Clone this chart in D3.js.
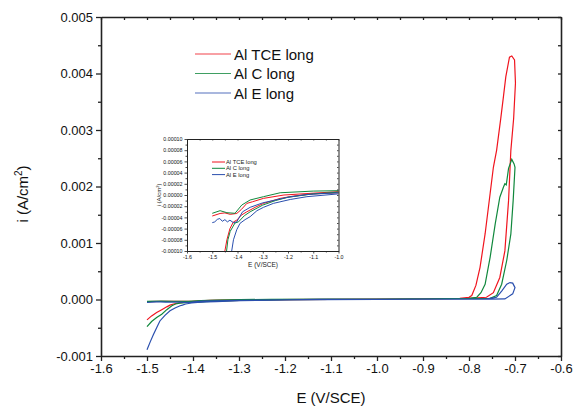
<!DOCTYPE html>
<html>
<head>
<meta charset="utf-8">
<script src="https://cdn.jsdelivr.net/npm/d3@7/dist/d3.min.js"></script>
<style>
  body { margin: 0; background: #fff; }
  svg { display: block; font-family: "Liberation Sans", Arial, sans-serif; }
  .axis path, .axis line { stroke: #222; }
</style>
</head>
<body>
<div id="chart"></div>
<script>
// scan order: forward from -1.5 V up to -0.7 V, then back to -1.5 V  [E (V/SCE), i (A/cm2)]
const tceLong = [
  [-1.500, -0.00036], [-1.490, -0.00029], [-1.479, -0.00023], [-1.468, -0.00018],
  [-1.457, -0.00013], [-1.450, -0.000100], [-1.442, -0.000080], [-1.430, -0.000060],
  [-1.416, -0.000048], [-1.403, -0.000045], [-1.385, -0.000036], [-1.363, -0.000030],
  [-1.330, -0.000022], [-1.297, -0.000015], [-1.260, -0.000010], [-1.231, -0.000006],
  [-1.180, -0.000002], [-1.100, 0.000002], [-1.000, 0.000004], [-0.900, 0.000010],
  [-0.820, 0.000020], [-0.800, 0.000040], [-0.794, 0.00007], [-0.785, 0.00025],
  [-0.776, 0.00057], [-0.765, 0.00116], [-0.754, 0.00188], [-0.747, 0.00234],
  [-0.740, 0.00264], [-0.731, 0.00320], [-0.725, 0.00360], [-0.720, 0.00394],
  [-0.712, 0.00429], [-0.707, 0.00431], [-0.701, 0.00424], [-0.699, 0.00383],
  [-0.703, 0.00320], [-0.709, 0.00264], [-0.714, 0.00175], [-0.722, 0.00086],
  [-0.733, 0.00039], [-0.747, 0.00012], [-0.762, 0.00004], [-0.800, 0.00002],
  [-0.900, 0.000012], [-1.000, 0.000006], [-1.109, 0.000003], [-1.216, 0.000000],
  [-1.297, -0.000006], [-1.340, -0.000012], [-1.363, -0.000015], [-1.385, -0.000026],
  [-1.403, -0.000033], [-1.429, -0.0000345], [-1.450, -0.000032], [-1.469, -0.000033],
  [-1.500, -0.0000375]
];

const cLong = [
  [-1.500, -0.00048], [-1.490, -0.00039], [-1.479, -0.00032], [-1.468, -0.00026],
  [-1.457, -0.00018], [-1.446, -0.00011], [-1.438, -0.000080], [-1.429, -0.000065],
  [-1.410, -0.000050], [-1.396, -0.000048], [-1.373, -0.000037], [-1.350, -0.000030],
  [-1.300, -0.000018], [-1.250, -0.000010], [-1.200, -0.000004], [-1.100, 0.000002],
  [-1.000, 0.000005], [-0.900, 0.000010], [-0.800, 0.000020], [-0.783, 0.00004],
  [-0.774, 0.00012], [-0.765, 0.00027], [-0.754, 0.00075], [-0.743, 0.00134],
  [-0.733, 0.00181], [-0.725, 0.00199], [-0.722, 0.00205], [-0.719, 0.00203],
  [-0.714, 0.00232], [-0.707, 0.00248], [-0.702, 0.00240], [-0.700, 0.00234],
  [-0.704, 0.00175], [-0.709, 0.00116], [-0.718, 0.00069], [-0.729, 0.00027],
  [-0.740, 0.00007], [-0.754, 0.00002], [-0.850, 0.000015], [-1.000, 0.0000077],
  [-1.100, 0.000007], [-1.231, 0.000004], [-1.297, -0.000003], [-1.350, -0.0000089],
  [-1.383, -0.0000179], [-1.410, -0.0000327], [-1.442, -0.0000316], [-1.469, -0.000028],
  [-1.500, -0.0000327]
];

const eLong = [
  [-1.500, -0.00089], [-1.493, -0.00075], [-1.486, -0.00062], [-1.479, -0.00050],
  [-1.472, -0.00038], [-1.461, -0.00028], [-1.450, -0.00020], [-1.439, -0.00015],
  [-1.428, -0.00011], [-1.423, -0.00010], [-1.416, -0.000080], [-1.403, -0.000062],
  [-1.390, -0.0000506], [-1.370, -0.000044], [-1.350, -0.0000387], [-1.323, -0.000028],
  [-1.297, -0.000022], [-1.258, -0.000015], [-1.191, -0.000008], [-1.125, -0.000003],
  [-1.000, 0.000002], [-0.900, 0.000004], [-0.800, 0.000005], [-0.762, 0.00001],
  [-0.740, 0.00004], [-0.729, 0.00015], [-0.718, 0.00027], [-0.711, 0.00030],
  [-0.705, 0.00029], [-0.700, 0.00021], [-0.705, 0.00010], [-0.722, 0.00001],
  [-0.754, 0.000005], [-0.900, 0.000005], [-1.000, 0.000004], [-1.125, 0.000001],
  [-1.200, -0.000004], [-1.300, -0.000014], [-1.350, -0.000022], [-1.380, -0.000030],
  [-1.403, -0.000048], [-1.416, -0.0000494], [-1.430, -0.000045], [-1.440, -0.000048],
  [-1.450, -0.000044], [-1.460, -0.000047], [-1.470, -0.000042], [-1.480, -0.0000435],
  [-1.490, -0.000048], [-1.500, -0.0000494]
];

const seriesNames = ["Al TCE long", "Al C long", "Al E long"];
const seriesColors = ["#f0141e", "#10883c", "#2a4fae"];
const seriesData = [tceLong, cLong, eLong];

const xTicks = [-1.6, -1.5, -1.4, -1.3, -1.2, -1.1, -1.0, -0.9, -0.8, -0.7, -0.6];
const yTicks = [-0.001, 0.000, 0.001, 0.002, 0.003, 0.004, 0.005];
const insetXTicks = [-1.6, -1.5, -1.4, -1.3, -1.2, -1.1, -1.0];
const insetYTicks = [-0.0001, -0.00008, -0.00006, -0.00004, -0.00002, 0, 0.00002, 0.00004, 0.00006, 0.00008, 0.0001];

const width = 582, height = 409;
const svg = d3.select("#chart").append("svg").attr("width", width).attr("height", height);

const mids = (t) => d3.pairs(t).map(([a, b]) => (a + b) / 2);

// ---- main plot
const x = d3.scaleLinear().domain([-1.6, -0.6]).range([101, 561]);
const y = d3.scaleLinear().domain([-0.001, 0.005]).range([356, 17]);

const fmtX = (d) => d.toFixed(1);
const fmtY = (d) => d.toFixed(3);

function drawAxes(g, xs, ys, xt, yt, fx, fy, o) {
  const [x0, x1] = xs.range(), [y0, y1] = ys.range();
  // minor ticks
  g.append("g").attr("class", "axis").attr("transform", `translate(0,${y0})`)
    .call(d3.axisBottom(xs).tickValues(mids(xt)).tickSize(o.minor).tickSizeOuter(0).tickFormat(""))
    .call((s) => s.select(".domain").remove());
  g.append("g").attr("class", "axis").attr("transform", `translate(${x0},0)`)
    .call(d3.axisLeft(ys).tickValues(mids(yt)).tickSize(o.minor).tickSizeOuter(0).tickFormat(""))
    .call((s) => s.select(".domain").remove());
  // top and right: inward ticks
  g.append("g").attr("class", "axis").attr("transform", `translate(0,${y1})`)
    .call(d3.axisTop(xs).tickValues(xt.concat(mids(xt))).tickSize(-o.inner).tickSizeOuter(0).tickFormat(""))
    .call((s) => s.select(".domain").attr("stroke-width", o.sw));
  g.append("g").attr("class", "axis").attr("transform", `translate(${x1},0)`)
    .call(d3.axisRight(ys).tickValues(yt.concat(mids(yt))).tickSize(-o.inner).tickSizeOuter(0).tickFormat(""))
    .call((s) => s.select(".domain").attr("stroke-width", o.sw));
  // major ticks with labels
  const bx = g.append("g").attr("class", "axis").attr("transform", `translate(0,${y0})`)
    .call(d3.axisBottom(xs).tickValues(xt).tickSize(o.major).tickSizeOuter(0).tickPadding(o.pad).tickFormat(fx));
  bx.select(".domain").attr("stroke-width", o.sw);
  const ly = g.append("g").attr("class", "axis").attr("transform", `translate(${x0},0)`)
    .call(d3.axisLeft(ys).tickValues(yt).tickSize(o.major).tickSizeOuter(0).tickPadding(o.pad).tickFormat(fy));
  ly.select(".domain").attr("stroke-width", o.sw);
  g.selectAll(".axis text").attr("font-family", null).attr("font-size", o.font).attr("fill", "#111");
  g.selectAll(".axis line").attr("stroke-width", o.tw);
}

const main = svg.append("g");
const line = d3.line().x((d) => x(d[0])).y((d) => y(d[1]));
main.selectAll("path.curve").data(seriesData).join("path")
  .attr("class", "curve").attr("d", line).attr("fill", "none")
  .attr("stroke", (d, i) => seriesColors[i]).attr("stroke-width", 1.2);

drawAxes(main, x, y, xTicks, yTicks, fmtX, fmtY,
  { major: 5, minor: 3, inner: 3, pad: 3, font: 13, sw: 1.6, tw: 1.3 });

main.append("text").attr("x", 331).attr("y", 403).attr("text-anchor", "middle")
  .attr("font-size", 15).attr("fill", "#111").text("E (V/SCE)");
const yt = main.append("text").attr("transform", "translate(28,194) rotate(-90)")
  .attr("text-anchor", "middle").attr("font-size", 15).attr("fill", "#111");
yt.append("tspan").text("i (A/cm");
yt.append("tspan").attr("font-size", 10).attr("dy", -6).text("2");
yt.append("tspan").attr("dy", 6).text(")");

const leg = main.append("g");
seriesNames.forEach((n, i) => {
  const yy = 54 + i * 19.5;
  leg.append("line").attr("x1", 195).attr("x2", 231).attr("y1", yy).attr("y2", yy)
    .attr("stroke", seriesColors[i]).attr("stroke-width", 1.2).attr("opacity", 0.8);
  leg.append("text").attr("x", 234).attr("y", yy + 5.5).attr("font-size", 15)
    .attr("fill", "#111").text(n);
});

// ---- inset
const ix = d3.scaleLinear().domain([-1.6, -1.0]).range([187, 338.5]);
const iy = d3.scaleLinear().domain([-0.0001, 0.0001]).range([251, 139]);
const inset = svg.append("g");
inset.append("rect").attr("x", 187).attr("y", 139).attr("width", 151.5).attr("height", 112).attr("fill", "#fff");
svg.append("clipPath").attr("id", "inclip").append("rect")
  .attr("x", 187).attr("y", 139).attr("width", 151.5).attr("height", 112);
const iline = d3.line().x((d) => ix(d[0])).y((d) => iy(d[1]));
inset.append("g").attr("clip-path", "url(#inclip)")
  .selectAll("path").data(seriesData).join("path")
  .attr("d", iline).attr("fill", "none")
  .attr("stroke", (d, i) => seriesColors[i]).attr("stroke-width", 1);

drawAxes(inset, ix, iy, insetXTicks, insetYTicks, fmtX, (d) => d.toFixed(5),
  { major: 2.5, minor: 1.5, inner: 1.5, pad: 2, font: 5.3, sw: 1, tw: 0.8 });

inset.append("text").attr("x", 263).attr("y", 267).attr("text-anchor", "middle")
  .attr("font-size", 6.5).attr("fill", "#222").text("E (V/SCE)");
const iyt = inset.append("text").attr("transform", "translate(161,195) rotate(-90)")
  .attr("text-anchor", "middle").attr("font-size", 6).attr("fill", "#222");
iyt.append("tspan").text("i (A/cm");
iyt.append("tspan").attr("font-size", 4).attr("dy", -2.5).text("2");
iyt.append("tspan").attr("dy", 2.5).text(")");

seriesNames.forEach((n, i) => {
  const yy = 162 + i * 6.3;
  inset.append("line").attr("x1", 212).attr("x2", 225).attr("y1", yy).attr("y2", yy)
    .attr("stroke", seriesColors[i]).attr("stroke-width", 1);
  inset.append("text").attr("x", 226).attr("y", yy + 2).attr("font-size", 5.8)
    .attr("fill", "#222").text(n);
});
</script>
</body>
</html>
